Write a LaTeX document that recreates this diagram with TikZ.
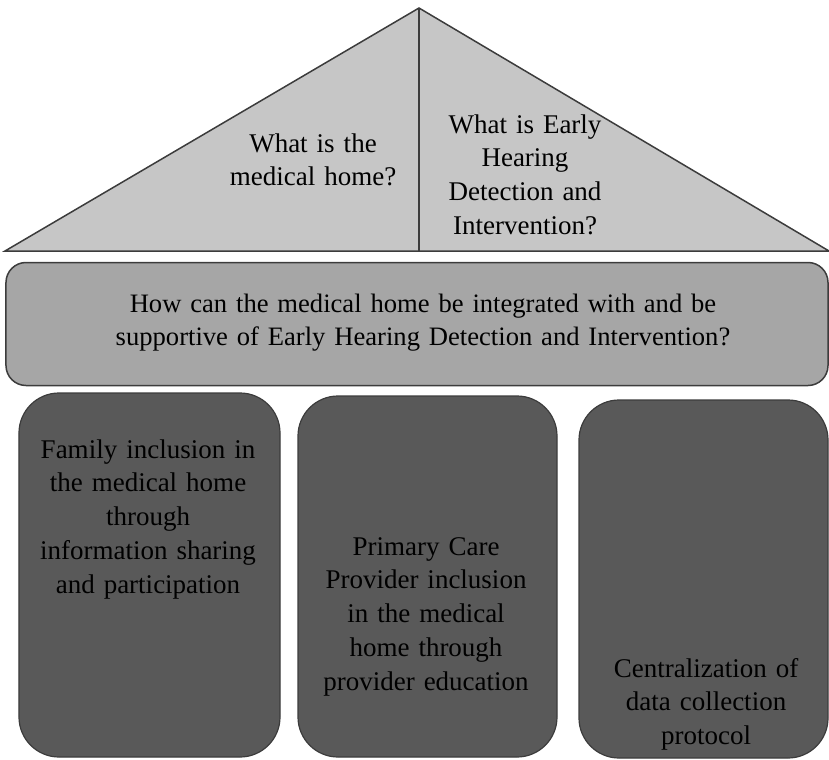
\documentclass[tikz,border=0pt]{standalone}
\usepackage{fontspec}
\setmainfont{Liberation Serif}
\definecolor{roofgray}{HTML}{C6C6C6}
\definecolor{bandgray}{HTML}{A6A6A6}
\definecolor{pillargray}{HTML}{595959}
\definecolor{edgegray}{HTML}{3C3C3C}
\begin{document}
\begin{tikzpicture}[x=1bp,y=-1bp,
  txt/.style={font=\fontsize{27bp}{33.8bp}\selectfont, text=black, align=center, text width=300bp, inner sep=0pt, anchor=base},
  band/.style={draw=edgegray, line width=1.5bp, fill=bandgray, rounded corners=20bp, inner sep=0pt},
  pillar/.style={draw=edgegray, line width=1.2bp, fill=pillargray, rounded corners=40bp, inner sep=0pt}]
\useasboundingbox (0,0) rectangle (829,760);
% roof
\coordinate (apex) at (419,8);
\coordinate (bl) at (5,251);
\coordinate (br) at (829,251);
\coordinate (mid) at (419,251);
\draw[draw=edgegray, line width=1.5bp, fill=roofgray, line join=miter] (apex) -- (bl) -- (br) -- cycle;
\draw[draw=edgegray, line width=1.5bp] (apex) -- (mid);
\node[txt] (q1) at (313,152) {What is the\\medical home?};
\node[txt] (q2) at (525,133) {What is Early\\Hearing\\Detection and\\Intervention?};
% band
\node[band, minimum width=822bp, minimum height=123bp] (bandbox) at (417,324) {};
\node[txt, text width=780bp, font=\fontsize{26.6bp}{33.5bp}\selectfont] (q3) at (423,312) {How can the medical home be integrated with and be\\supportive of Early Hearing Detection and Intervention?};
% pillars
\node[pillar, minimum width=261bp, minimum height=364bp] (p1) at (149.5,575) {};
\node[pillar, minimum width=259bp, minimum height=361bp] (p2) at (427.5,576.5) {};
\node[pillar, minimum width=249bp, minimum height=358bp] (p3) at (703.5,579) {};
\node[txt] (t1) at (148,458) {Family inclusion in\\the medical home\\through\\information sharing\\and participation};
\node[txt] (t2) at (426,555) {Primary Care\\Provider inclusion\\in the medical\\home through\\provider education};
\node[txt] (t3) at (706,677) {Centralization of\\data collection\\protocol};
\end{tikzpicture}
\end{document}
